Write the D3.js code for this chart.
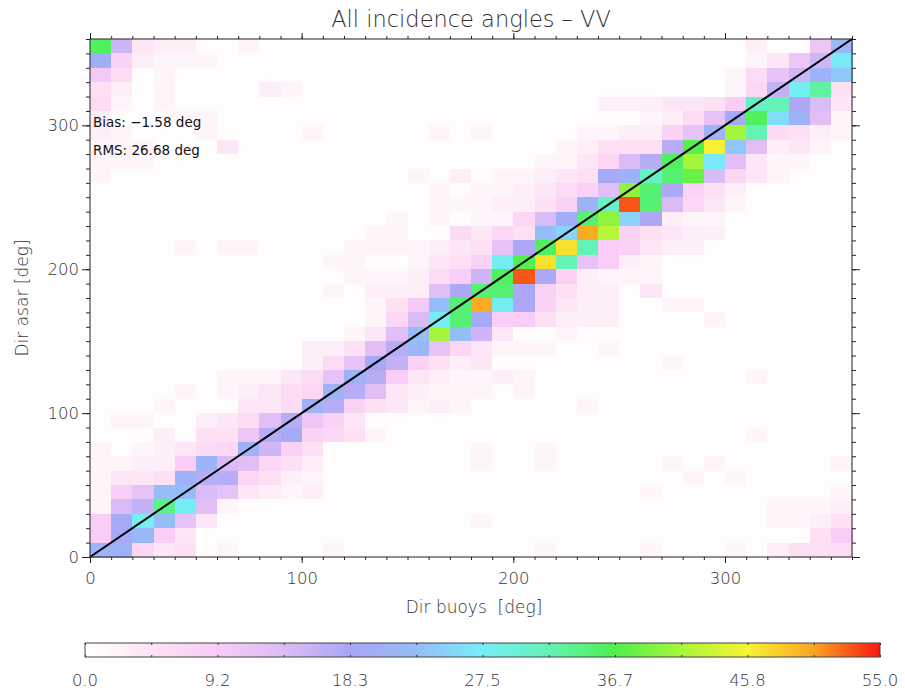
<!DOCTYPE html>
<html><head><meta charset="utf-8">
<script src="https://cdn.jsdelivr.net/npm/d3@7"></script>
<style>
html,body{margin:0;padding:0;background:#fff;}
svg{display:block;}
text{font-family:"DejaVu Sans","Open Sans",sans-serif;}
</style></head><body>
<svg id="chart" width="905" height="691"></svg>
<script>
// ---------------- data ----------------
const titleText = "All incidence angles \u2013 VV";
const xLabelText = "Dir buoys  [deg]";
const yLabelText = "Dir asar [deg]";
const statsLines = ["Bias: \u22121.58 deg", "RMS: 26.68 deg"];

// bin start (deg) of each column: Dir buoys
const buoyBins = [0,10,20,30,40,50,60,70,80,90,100,110,120,130,140,150,160,170,180,190,200,210,220,230,240,250,260,270,280,290,300,310,320,330,340,350];
// bin start (deg) of each row (top row first): Dir asar
const asarBins = [350,340,330,320,310,300,290,280,270,260,250,240,230,220,210,200,190,180,170,160,150,140,130,120,110,100,90,80,70,60,50,40,30,20,10,0];

// counts per cell, rows follow asarBins, columns follow buoyBins
const counts = [
[36,15,4,3,3,1,1,2,1,1,1,1,1,1,1,1,1,1,1,1,1,1,1,1,1,1,1,1,1,1,1,3,1,1,11,22],
[20,8,3,2,2,2,1,1,1,1,1,1,1,1,1,1,1,1,1,1,1,1,1,1,1,1,1,1,1,1,1,2,4,11,15,27],
[10,6,1,2,1,1,1,1,1,1,1,1,1,1,1,1,1,1,1,1,1,1,1,1,1,1,1,1,1,1,2,6,12,15,21,24],
[5,3,1,2,1,1,1,1,3,2,1,1,1,1,1,1,1,1,1,1,1,1,1,1,1,1,1,1,1,1,2,7,16,28,33,5],
[6,2,1,2,1,1,1,1,1,1,1,1,1,1,1,1,1,1,1,1,1,1,1,1,3,3,3,4,4,5,9,31,32,18,14,4],
[3,1,1,1,2,2,1,1,1,1,1,1,1,1,1,1,1,1,1,1,1,1,1,1,1,1,2,3,6,12,19,36,26,21,13,2],
[3,2,1,1,1,2,1,1,1,1,2,1,1,1,1,1,2,1,2,1,1,1,1,2,2,3,3,8,12,21,41,32,6,5,3,2],
[2,2,2,1,1,1,4,1,1,1,1,1,1,1,1,1,1,1,1,1,1,1,2,3,5,5,5,17,37,46,24,13,3,4,2,1],
[2,2,2,1,1,1,1,1,1,1,1,1,1,1,1,1,1,1,1,1,1,2,2,4,7,14,17,36,41,27,13,4,2,2,1,1],
[2,1,1,1,1,1,1,1,1,1,1,1,1,1,1,2,1,3,1,2,2,3,4,5,19,21,31,35,38,14,7,4,2,1,1,1],
[1,1,1,1,1,1,1,1,1,1,1,1,1,1,1,1,2,1,2,2,3,4,6,8,13,40,35,18,8,5,3,1,1,1,1,1],
[1,1,1,1,1,1,1,1,1,1,1,1,1,1,1,1,2,2,2,3,3,5,8,21,31,53,35,14,7,4,2,1,1,1,1,1],
[1,1,1,1,1,1,1,1,1,1,1,1,1,1,2,1,2,1,2,2,7,14,20,35,40,25,18,3,2,2,1,1,1,1,1,1],
[1,1,1,1,1,1,1,1,1,1,1,1,1,2,2,1,1,6,4,7,5,23,25,50,42,8,5,4,3,3,1,1,1,1,1,1],
[1,1,1,1,2,1,2,2,1,1,1,1,2,2,2,2,3,4,5,12,18,36,47,32,9,8,4,3,3,1,1,1,1,1,1,1],
[1,1,1,1,1,1,1,1,1,1,1,2,2,1,1,2,4,5,8,28,37,47,32,12,9,3,2,1,1,1,1,1,1,1,1,1],
[1,1,1,1,1,1,1,1,1,1,1,1,2,2,2,3,6,9,15,36,53,18,8,3,2,2,2,1,1,1,1,1,1,1,1,1],
[1,1,1,1,1,1,1,1,1,1,1,2,1,3,3,3,13,18,35,35,18,8,5,3,3,1,4,1,1,1,1,1,1,1,1,1],
[1,1,1,1,1,1,1,1,1,1,1,1,1,2,5,10,23,35,50,28,18,8,4,3,3,1,1,2,2,1,1,1,1,1,1,1],
[1,1,1,1,1,1,1,1,1,1,1,1,1,2,7,14,28,35,19,9,9,5,3,3,3,1,1,1,1,2,1,1,1,1,1,1],
[1,1,1,1,1,1,1,1,1,1,1,1,2,4,13,23,41,23,15,4,1,1,2,1,1,1,1,1,1,1,1,1,1,1,1,1],
[1,1,1,1,1,1,1,1,1,1,3,3,5,13,17,22,12,7,4,2,2,2,1,1,2,1,1,1,1,1,1,1,1,1,1,1],
[1,1,1,1,1,1,1,1,1,1,3,6,12,19,16,8,5,3,4,1,1,1,1,1,1,1,1,2,1,1,1,1,1,1,1,1],
[1,1,1,1,1,1,2,2,2,4,6,12,21,17,9,4,3,2,2,3,2,1,1,1,1,1,1,1,1,1,1,2,1,1,1,1],
[1,1,1,1,2,1,2,3,4,6,7,21,17,13,4,3,2,2,2,1,2,1,1,1,1,1,1,1,1,1,1,1,1,1,1,1],
[1,1,1,2,1,1,1,4,4,6,21,17,8,5,4,2,3,2,1,1,1,1,1,2,1,1,1,1,1,1,1,1,1,1,1,1],
[1,2,2,1,1,3,4,6,13,17,11,8,4,1,1,1,1,1,1,1,1,1,1,1,1,1,1,1,1,1,1,1,1,1,1,1],
[1,1,1,3,1,5,5,11,17,19,8,7,5,2,1,1,1,1,1,1,1,1,1,1,1,1,1,1,1,1,1,2,1,1,1,1],
[2,1,2,3,4,6,7,21,15,8,5,1,1,1,1,1,1,1,2,1,1,2,1,1,1,1,1,1,1,1,1,1,1,1,1,1],
[2,2,3,3,9,21,14,13,7,5,3,1,1,1,1,1,1,1,2,1,1,2,1,1,1,1,1,2,1,2,1,1,1,1,1,2],
[2,4,4,5,21,17,17,7,5,3,2,1,1,1,1,1,1,1,1,1,1,1,1,1,1,1,1,1,2,1,2,1,1,1,1,1],
[2,9,12,23,23,14,12,4,3,2,3,1,1,1,1,1,1,1,1,1,1,1,1,1,1,1,2,1,1,1,1,1,1,1,1,2],
[2,14,16,34,28,13,2,1,1,1,1,1,1,1,1,1,1,1,1,1,1,1,1,1,1,1,1,1,1,1,1,1,2,2,2,3],
[9,19,28,23,12,4,1,1,1,1,1,1,1,1,1,1,1,1,2,1,1,1,1,1,1,1,1,1,1,1,1,1,2,2,3,5],
[9,19,22,9,4,1,1,1,1,1,1,1,1,1,1,1,1,1,1,1,1,1,1,1,1,1,1,1,1,1,1,1,1,1,5,9],
[21,21,7,4,5,1,2,1,1,1,1,2,1,1,1,1,1,1,1,1,1,2,1,1,1,1,2,1,1,1,2,1,3,5,5,6]
];

const binWidth = 10;
const axisMajorTicks = [0, 100, 200, 300];
const axisMinorTicks = [0,10,20,30,40,50,60,70,80,90,100,110,120,130,140,150,160,170,180,190,200,210,220,230,240,250,260,270,280,290,300,310,320,330,340,350,360];
const colorMin = 0, colorMax = 55;
const colorbarLabels = ["0.0","9.2","18.3","27.5","36.7","45.8","55.0"];
const colorbarLabelValues = [0, 55/6, 2*55/6, 3*55/6, 4*55/6, 5*55/6, 55];
const colorbarTickValues = [0,55/12,2*55/12,3*55/12,4*55/12,5*55/12,6*55/12,7*55/12,8*55/12,9*55/12,10*55/12,11*55/12,55];
const colorStopValues = [0, 1, 2.5, 4.58, 9.17, 13.75, 18.33, 22.92, 27.5, 32.08, 36.67, 41.25, 45.83, 50.42, 55];
const colorStopColors = ["#ffffff","#fffcfd","#fef2f8","#fde2f4","#f9ccf6","#dcbcf6","#a8a6f6","#96bcf8","#76eefa","#64f2b4","#4ef04e","#a8f63a","#f8f432","#f8a422","#f81a12"];

// ---------------- layout ----------------
const svg = d3.select("#chart");
const L = 90, R = 852, T = 39, B = 557;
const x = d3.scaleLinear().domain([0, 360]).range([L, R]);
const y = d3.scaleLinear().domain([0, 360]).range([B, T]);
const color = d3.scaleLinear().domain(colorStopValues).range(colorStopColors).interpolate(d3.interpolateRgb).clamp(true);

const cells = [];
counts.forEach((row, ri) => row.forEach((v, ci) => cells.push({bx: buoyBins[ci], by: asarBins[ri], v})));

svg.append("g").selectAll("rect").data(cells).join("rect")
  .attr("x", d => x(d.bx))
  .attr("y", d => y(d.by + binWidth))
  .attr("width", d => x(d.bx + binWidth) - x(d.bx) + 0.5)
  .attr("height", d => y(d.by) - y(d.by + binWidth) + 0.5)
  .attr("fill", d => color(d.v))
  .attr("shape-rendering", "crispEdges");

// diagonal line
svg.append("line")
  .attr("x1", x(0)).attr("y1", y(0)).attr("x2", x(360)).attr("y2", y(360))
  .attr("stroke", "#000").attr("stroke-width", 2);

// axes
const axisColor = "#222";
function styleAxis(g) {
  g.select(".domain").remove();
  g.selectAll(".tick line").attr("stroke", axisColor);
  g.selectAll(".tick text").attr("fill", "#333").attr("font-size", 16.5).attr("font-weight", 300)
    .attr("font-family", "'DejaVu Sans', sans-serif");
}
svg.append("g").attr("transform", `translate(0,${B})`)
  .call(d3.axisBottom(x).tickValues(axisMinorTicks).tickSize(3).tickFormat("")).call(styleAxis);
svg.append("g").attr("transform", `translate(0,${B})`)
  .call(d3.axisBottom(x).tickValues(axisMajorTicks).tickSize(6).tickPadding(9).tickFormat(d3.format("d"))).call(styleAxis);
svg.append("g").attr("transform", `translate(0,${T})`)
  .call(d3.axisTop(x).tickValues(axisMinorTicks).tickSize(3).tickFormat("")).call(styleAxis);
svg.append("g").attr("transform", `translate(0,${T})`)
  .call(d3.axisTop(x).tickValues(axisMajorTicks).tickSize(6).tickFormat("")).call(styleAxis);
svg.append("g").attr("transform", `translate(${L},0)`)
  .call(d3.axisLeft(y).tickValues(axisMinorTicks).tickSize(4).tickFormat("")).call(styleAxis);
svg.append("g").attr("transform", `translate(${L},0)`)
  .call(d3.axisLeft(y).tickValues(axisMajorTicks).tickSize(8).tickPadding(3).tickFormat(d3.format("d"))).call(styleAxis);
svg.append("g").attr("transform", `translate(${R},0)`)
  .call(d3.axisRight(y).tickValues(axisMinorTicks).tickSize(4).tickFormat("")).call(styleAxis);
svg.append("g").attr("transform", `translate(${R},0)`)
  .call(d3.axisRight(y).tickValues(axisMajorTicks).tickSize(8).tickFormat("")).call(styleAxis);

// frame
svg.append("rect").attr("x", L).attr("y", T).attr("width", R - L).attr("height", B - T)
  .attr("fill", "none").attr("stroke", axisColor).attr("stroke-width", 1);

// stats text
svg.append("g").selectAll("text").data(statsLines).join("text")
  .attr("x", L + 3).attr("y", (d, i) => 127 + i * 28)
  .attr("font-size", 13.5).attr("fill", "#111").text(d => d);

// title
svg.append("text").attr("x", (L + R) / 2).attr("y", 27).attr("text-anchor", "middle")
  .attr("font-size", 22.5).attr("font-weight", 300).attr("fill", "#333").text(titleText);

// axis titles
svg.append("text").attr("x", (L + R) / 2 + 3).attr("y", 613).attr("text-anchor", "middle")
  .attr("font-size", 17).attr("font-weight", 300).attr("fill", "#333")
  .style("white-space", "pre").text(xLabelText);
svg.append("text").attr("transform", `translate(28,${(T + B) / 2}) rotate(-90)`)
  .attr("text-anchor", "middle").attr("font-size", 17).attr("font-weight", 300).attr("fill", "#333")
  .text(yLabelText);

// colorbar
const cbL = 85, cbR = 880, cbT = 643, cbB = 657;
const cx = d3.scaleLinear().domain([colorMin, colorMax]).range([cbL, cbR]);
const defs = svg.append("defs");
const grad = defs.append("linearGradient").attr("id", "cbgrad").attr("x1", "0%").attr("x2", "100%");
grad.selectAll("stop").data(colorStopValues).join("stop")
  .attr("offset", d => (d - colorMin) / (colorMax - colorMin))
  .attr("stop-color", d => color(d));
svg.append("rect").attr("x", cbL).attr("y", cbT).attr("width", cbR - cbL).attr("height", cbB - cbT)
  .attr("fill", "url(#cbgrad)").attr("stroke", "#444").attr("stroke-width", 1);
svg.append("g").attr("transform", `translate(0,${cbT})`)
  .call(d3.axisBottom(cx).tickValues(colorbarTickValues).tickSize(2).tickFormat(""))
  .call(g => { g.select(".domain").remove(); g.selectAll(".tick line").attr("stroke", "#333"); });
svg.append("g").attr("transform", `translate(0,${cbB})`)
  .call(d3.axisTop(cx).tickValues(colorbarTickValues).tickSize(2).tickFormat(""))
  .call(g => { g.select(".domain").remove(); g.selectAll(".tick line").attr("stroke", "#333"); });
svg.append("g").selectAll("text").data(colorbarLabels).join("text")
  .attr("x", (d, i) => cx(colorbarLabelValues[i])).attr("y", 686)
  .attr("text-anchor", "middle").attr("font-size", 16.5).attr("font-weight", 300).attr("fill", "#333")
  .text(d => d);
</script>
</body></html>
